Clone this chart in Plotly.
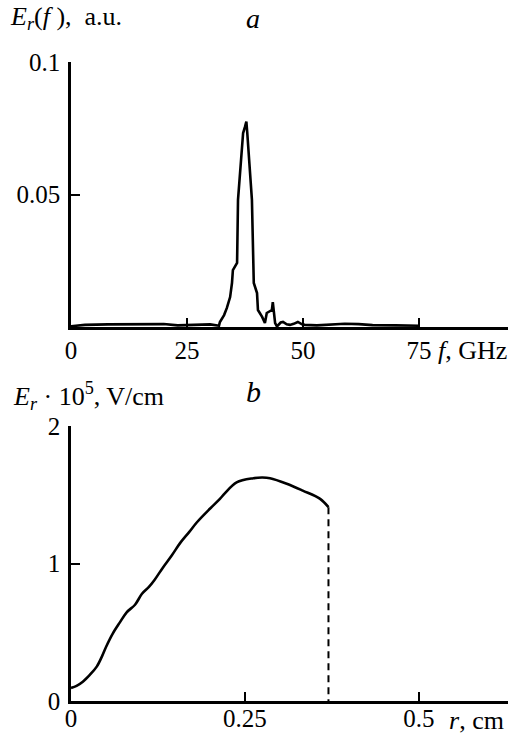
import plotly.graph_objects as go

# ---- Panel a: spectrum ----
freq_ghz = [0, 3, 8, 14, 20, 23, 26, 28, 30, 31.9, 32.1, 33.0, 33.6, 34.3, 34.7, 34.9,
            35.8, 36.0, 36.6, 37.1, 37.5, 37.8, 38.0, 38.6, 39.0, 39.4, 40.1, 40.3,
            41.2, 41.8, 42.2, 43.3, 43.5, 44.0, 44.4, 45.2, 45.7, 46.5, 47.2, 48.0,
            48.9, 49.8, 50.4, 53, 56, 59, 62, 65, 70, 75]
spec_au = [0.0003, 0.0008, 0.0010, 0.0011, 0.0011, 0.0006, 0.0008, 0.0009, 0.0010, 0.0005,
           0.0019, 0.0045, 0.0072, 0.0113, 0.0166, 0.0215, 0.0242, 0.0480, 0.0620, 0.0732,
           0.0755, 0.0775, 0.0732, 0.0600, 0.0480, 0.0166, 0.0128, 0.0064, 0.0038, 0.0015,
           0.0053, 0.0064, 0.0094, 0.0015, 0.0002, 0.0017, 0.0019, 0.0010, 0.0008, 0.0012,
           0.0019, 0.0010, 0.0008, 0.0006, 0.0008, 0.0012, 0.0011, 0.0007, 0.0006, 0.0005]
a_xticks = [0, 25, 50, 75]
a_xticklabels = ["0", "25", "50", "75"]
a_yticks = [0.05, 0.1]
a_yticklabels = ["0.05", "0.1"]

# ---- Panel b: radial profile ----
radius_cm = [0, 0.008, 0.017, 0.027, 0.037, 0.045, 0.051, 0.06, 0.07, 0.08, 0.092, 0.102,
             0.112, 0.12, 0.132, 0.145, 0.157, 0.17, 0.181, 0.2, 0.214, 0.221, 0.238,
             0.262, 0.275, 0.286, 0.31, 0.333, 0.358, 0.37]
field_e5 = [0.095, 0.11, 0.14, 0.19, 0.25, 0.33, 0.40, 0.49, 0.57, 0.645, 0.70, 0.78,
            0.83, 0.88, 0.97, 1.06, 1.15, 1.23, 1.30, 1.40, 1.47, 1.51, 1.59,
            1.62, 1.625, 1.62, 1.58, 1.53, 1.47, 1.41]
boundary_r = [0.37, 0.37]
boundary_e = [1.41, 0]
b_xticks = [0, 0.25, 0.5]
b_xticklabels = ["0", "0.25", "0.5"]
b_yticks = [0, 1, 2]
b_yticklabels = ["0", "1", "2"]

W, H = 531, 738
def px(x):
    return x / W
def py(y):
    return 1 - y / H

FONT = "Liberation Serif, Times New Roman, serif"
fig = go.Figure()
fig.add_trace(go.Scatter(x=freq_ghz, y=spec_au, mode="lines",
                         line=dict(color="black", width=2.6), xaxis="x", yaxis="y",
                         showlegend=False))
fig.add_trace(go.Scatter(x=radius_cm, y=field_e5, mode="lines", line_shape="spline",
                         line=dict(color="black", width=2.6), xaxis="x2", yaxis="y2",
                         showlegend=False))
fig.add_trace(go.Scatter(x=boundary_r, y=boundary_e, mode="lines",
                         line=dict(color="black", width=2, dash="7px,5px"),
                         xaxis="x2", yaxis="y2", showlegend=False))

axis_common = dict(showline=True, linecolor="black", linewidth=2.5, ticks="inside",
                   ticklen=9, tickwidth=2, tickcolor="black", showgrid=False,
                   zeroline=False, automargin=False,
                   tickfont=dict(family=FONT, size=25, color="black"))
xd = [px(71), px(508)]
fig.update_layout(
    width=W, height=H, margin=dict(l=0, r=0, t=0, b=0),
    paper_bgcolor="white", plot_bgcolor="white",
    font=dict(family=FONT, color="black"),
    xaxis=dict(domain=xd, range=[0, 94.2], tickvals=a_xticks, ticktext=a_xticklabels,
               anchor="y", ticklabelstandoff=-1, **axis_common),
    yaxis=dict(domain=[py(327), py(62)], range=[0, 0.1], tickvals=a_yticks,
               ticktext=a_yticklabels, anchor="x", ticklabelstandoff=3, **axis_common),
    xaxis2=dict(domain=xd, range=[0, 0.628], tickvals=b_xticks, ticktext=b_xticklabels,
                anchor="y2", ticklabelstandoff=-7, **axis_common),
    yaxis2=dict(domain=[py(701), py(426)], range=[0, 2], tickvals=b_yticks,
                ticktext=b_yticklabels, anchor="x2", ticklabelstandoff=3, **axis_common),
)

def note(text, x, y, xanchor="left", size=26):
    fig.add_annotation(text=text, x=px(x), y=py(y), xref="paper", yref="paper",
                       xanchor=xanchor, yanchor="middle", showarrow=False,
                       font=dict(family=FONT, size=size, color="black"))

note("<i>E<sub>r</sub></i>(<i>f</i>&nbsp;),&nbsp;&nbsp;a.u.", 8, 18)
note("<i>a</i>", 253, 18, xanchor="center", size=28)
note("<i>f</i>, GHz", 436, 350)
note("<i>E<sub>r</sub></i> · 10<sup>5</sup>, V/cm", 11, 396)
note("<i>b</i>", 253, 391, xanchor="center", size=30)
note("<i>r</i>, cm", 447, 720)

fig.write_html("out.html")
